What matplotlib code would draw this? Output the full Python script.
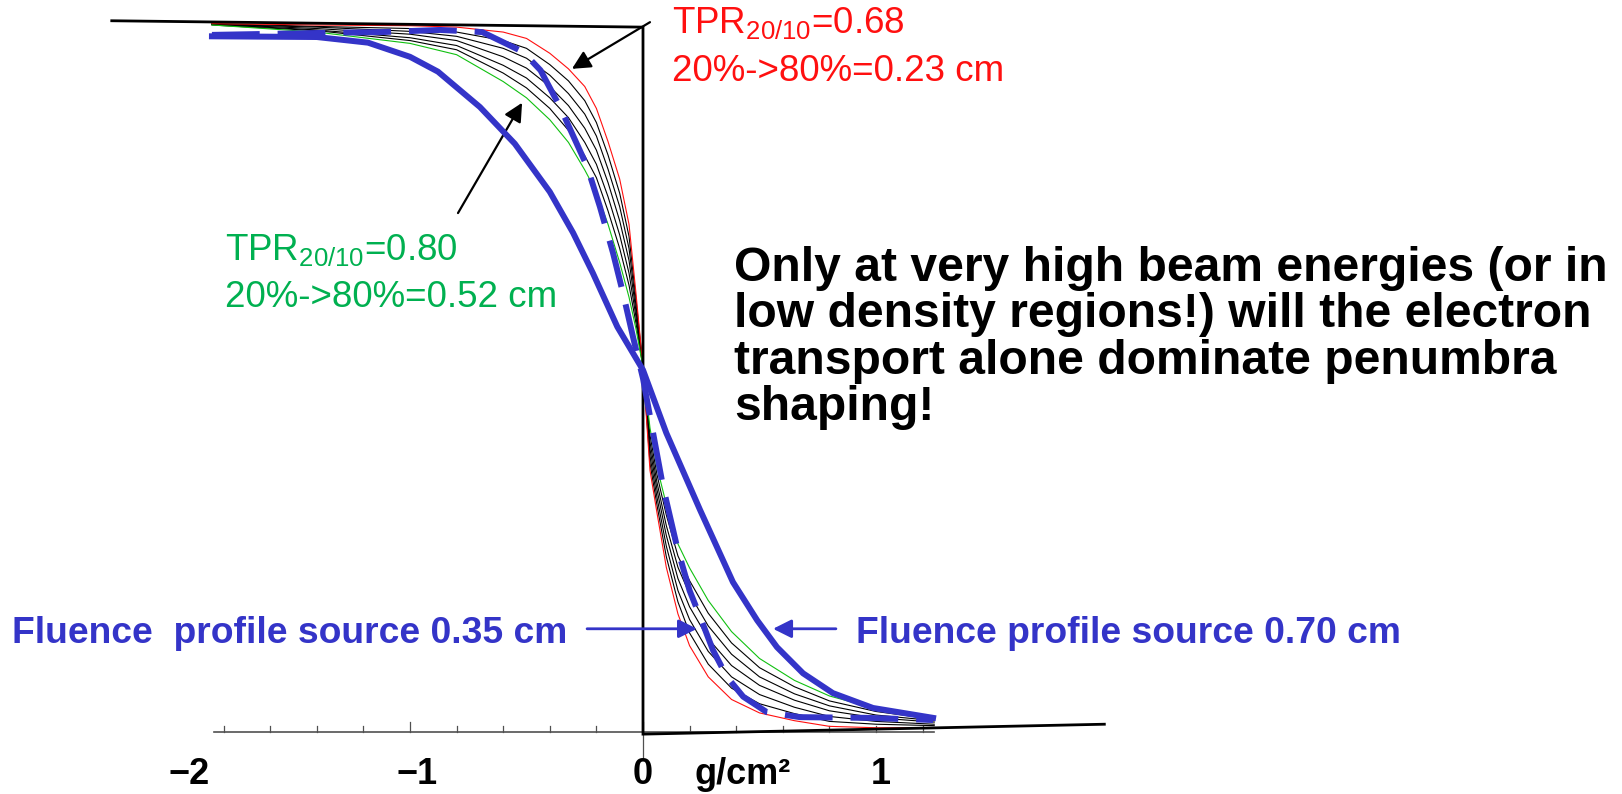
import matplotlib
matplotlib.use("Agg")
import matplotlib.pyplot as plt

plt.rcParams['font.family'] = ['Liberation Sans', 'DejaVu Sans']
plt.rcParams['mathtext.fontset'] = 'custom'
plt.rcParams['mathtext.rm'] = 'Liberation Sans'

# depth-dose penumbra profiles, x in g/cm2, y relative dose
x_thin = [-1.85, -1.4, -1.0, -0.8, -0.6, -0.5, -0.4, -0.32, -0.25, -0.2, -0.15,
          -0.1, -0.06, -0.03, 0.0, 0.03, 0.06, 0.1, 0.15, 0.2, 0.28, 0.38, 0.5,
          0.65, 0.8, 1.0, 1.25]
red_068 = [1.002, 1.0, 0.999, 0.997, 0.990, 0.981, 0.960, 0.938, 0.913, 0.882, 0.835,
           0.782, 0.718, 0.62, 0.516, 0.37, 0.31, 0.233, 0.167, 0.122, 0.078, 0.046, 0.027,
           0.016, 0.008, 0.006, 0.006]
black_1 = [1.002, 0.998, 0.995, 0.990, 0.978, 0.967, 0.944, 0.921, 0.893, 0.862, 0.816,
           0.762, 0.701, 0.612, 0.516, 0.38, 0.321, 0.248, 0.184, 0.140, 0.096, 0.062, 0.040,
           0.026, 0.015, 0.011, 0.009]
black_2 = [1.001, 0.997, 0.991, 0.984, 0.967, 0.953, 0.929, 0.903, 0.874, 0.843, 0.796,
           0.743, 0.684, 0.603, 0.516, 0.39, 0.332, 0.263, 0.200, 0.159, 0.114, 0.078, 0.053,
           0.035, 0.022, 0.015, 0.011]
black_3 = [1.001, 0.995, 0.987, 0.978, 0.955, 0.939, 0.913, 0.886, 0.854, 0.823, 0.777,
           0.723, 0.667, 0.595, 0.516, 0.40, 0.343, 0.278, 0.217, 0.177, 0.132, 0.094, 0.066,
           0.045, 0.030, 0.020, 0.014]
black_4 = [1.001, 0.993, 0.982, 0.971, 0.943, 0.925, 0.897, 0.869, 0.834, 0.803, 0.757,
           0.703, 0.649, 0.587, 0.516, 0.41, 0.353, 0.292, 0.233, 0.195, 0.150, 0.110, 0.078,
           0.054, 0.037, 0.024, 0.016]
black_5 = [1.0, 0.992, 0.978, 0.965, 0.932, 0.911, 0.882, 0.851, 0.815, 0.784, 0.737,
           0.684, 0.632, 0.578, 0.516, 0.42, 0.364, 0.307, 0.249, 0.214, 0.168, 0.126, 0.091,
           0.064, 0.044, 0.029, 0.018]
green_080 = [1.0, 0.99, 0.974, 0.958, 0.920, 0.897, 0.866, 0.834, 0.795, 0.764, 0.718,
             0.664, 0.615, 0.57, 0.516, 0.43, 0.375, 0.322, 0.266, 0.232, 0.186, 0.142, 0.104,
             0.073, 0.051, 0.033, 0.021]

x_src070 = [-1.85, -1.4, -1.18, -1.0, -0.88, -0.70, -0.55, -0.40, -0.30, -0.215,
            -0.11, 0.0, 0.10, 0.245, 0.386, 0.49, 0.575, 0.687, 0.815, 0.987, 1.245]
y_src070 = [0.984, 0.983, 0.975, 0.955, 0.934, 0.884, 0.832, 0.764, 0.706, 0.649,
            0.573, 0.512, 0.423, 0.314, 0.212, 0.158, 0.120, 0.083, 0.055, 0.034, 0.020]

x_src035 = [-1.85, -1.34, -1.12, -0.87, -0.69, -0.515, -0.44, -0.356, -0.24, -0.185,
            -0.129, -0.086, -0.043, 0.0, 0.086, 0.146, 0.20, 0.245, 0.30, 0.36,
            0.43, 0.532, 0.674, 0.96, 1.245]
y_src035 = [0.986, 0.989, 0.990, 0.993, 0.990, 0.962, 0.936, 0.884, 0.80, 0.743,
            0.678, 0.621, 0.559, 0.50, 0.347, 0.262, 0.20, 0.163, 0.116, 0.078,
            0.050, 0.028, 0.021, 0.020, 0.017]

# ideal field edge (drawn slightly skewed in the original)
x_edge = [-2.28, 0.0, 0.0, 1.98]
y_edge = [1.006, 0.997, -0.003, 0.011]

tick_pos = [-1.8, -1.6, -1.4, -1.2, -1.0, -0.8, -0.6, -0.4, -0.2, 0.0,
            0.2, 0.4, 0.6, 0.8, 1.0, 1.2]
tick_labels = ['\u22122', '\u22121', '0', '1']

blue = '#3434C8'
red = '#FF1010'
green_line = '#10C010'
green_text = '#00B050'

fig = plt.figure(figsize=(16.22, 7.94), dpi=100)
ax = fig.add_axes([0, 0, 1, 1])
ax.set_xlim(-643 / 233, (1622 - 643) / 233)
ax.set_ylim(-62 / 707, 1 + 25 / 707)
ax.axis('off')

for yy in [black_1, black_2, black_3, black_4, black_5]:
    ax.plot(x_thin, yy, color='black', lw=0.8, zorder=2, solid_joinstyle='round')
ax.plot(x_thin, red_068, color=red, lw=0.8, zorder=2, solid_joinstyle='round')
ax.plot(x_thin, green_080, color=green_line, lw=0.8, zorder=2, solid_joinstyle='round')

ax.plot(x_edge, y_edge, color='black', lw=2.0, zorder=3, solid_joinstyle='miter')

ax.plot(x_src070, y_src070, color=blue, lw=4.3, zorder=4)
ax.plot(x_src035, y_src035, color=blue, lw=4.3, zorder=4, dashes=(8, 3))

# axis with small ticks
ax.plot([-1.84, 1.25], [0, 0], color='#505050', lw=1.2, zorder=1)
for t in tick_pos:
    h = 0.014 if t in (-1.0, 0.0) else 0.008
    ax.plot([t, t], [0, h], color='#505050', lw=0.9, zorder=1)
ax.plot([0, 0], [0, -0.04], color='#505050', lw=0.9, zorder=1)

lab_x = [-1.95, -0.97, 0.0, 1.02]
for lx, s in zip(lab_x, tick_labels):
    ax.text(lx, -0.0735, s, ha='center', va='baseline', fontsize=26,
            fontweight='bold')
ax.text(0.223, -0.0735, 'g/cm\u00b2', ha='left', va='baseline', fontsize=26,
        fontweight='bold')

ax.text(0.124, 0.987, r'TPR$_{\mathregular{20/10}}$=0.68', color=red,
        fontsize=26.5, va='baseline')
ax.text(0.124, 0.921, '20%->80%=0.23 cm', color=red, fontsize=26.5,
        va='baseline')
ax.text(-1.794, 0.666, r'TPR$_{\mathregular{20/10}}$=0.80', color=green_text,
        fontsize=26.5, va='baseline')
ax.text(-1.794, 0.601, '20%->80%=0.52 cm', color=green_text, fontsize=26.5,
        va='baseline')

note = ['Only at very high beam energies (or in',
        'low density regions!) will the electron',
        'transport alone dominate penumbra',
        'shaping!']
for i, s in enumerate(note):
    ax.text(0.391, 0.638 - i * 0.0655, s, fontsize=34.6, fontweight='bold',
            va='baseline')

ax.text(-2.708, 0.126, 'Fluence  profile source 0.35 cm', color=blue,
        fontsize=26.8, fontweight='bold', va='baseline')
ax.text(0.914, 0.126, 'Fluence profile source 0.70 cm', color=blue,
        fontsize=26.8, fontweight='bold', va='baseline')

arr = dict(arrowstyle='-|>', color='black', lw=1.6, mutation_scale=28,
           shrinkA=0, shrinkB=0)
ax.annotate('', xy=(-0.305, 0.938), xytext=(0.030, 1.004), arrowprops=arr)
ax.annotate('', xy=(-0.519, 0.890), xytext=(-0.794, 0.734), arrowprops=arr)
barr = dict(arrowstyle='-|>', color=blue, lw=2.0, mutation_scale=28,
            shrinkA=0, shrinkB=0)
ax.annotate('', xy=(0.232, 0.146), xytext=(-0.240, 0.146), arrowprops=barr)
ax.annotate('', xy=(0.558, 0.146), xytext=(0.828, 0.146), arrowprops=barr)

fig.savefig('out.png', dpi=100)
